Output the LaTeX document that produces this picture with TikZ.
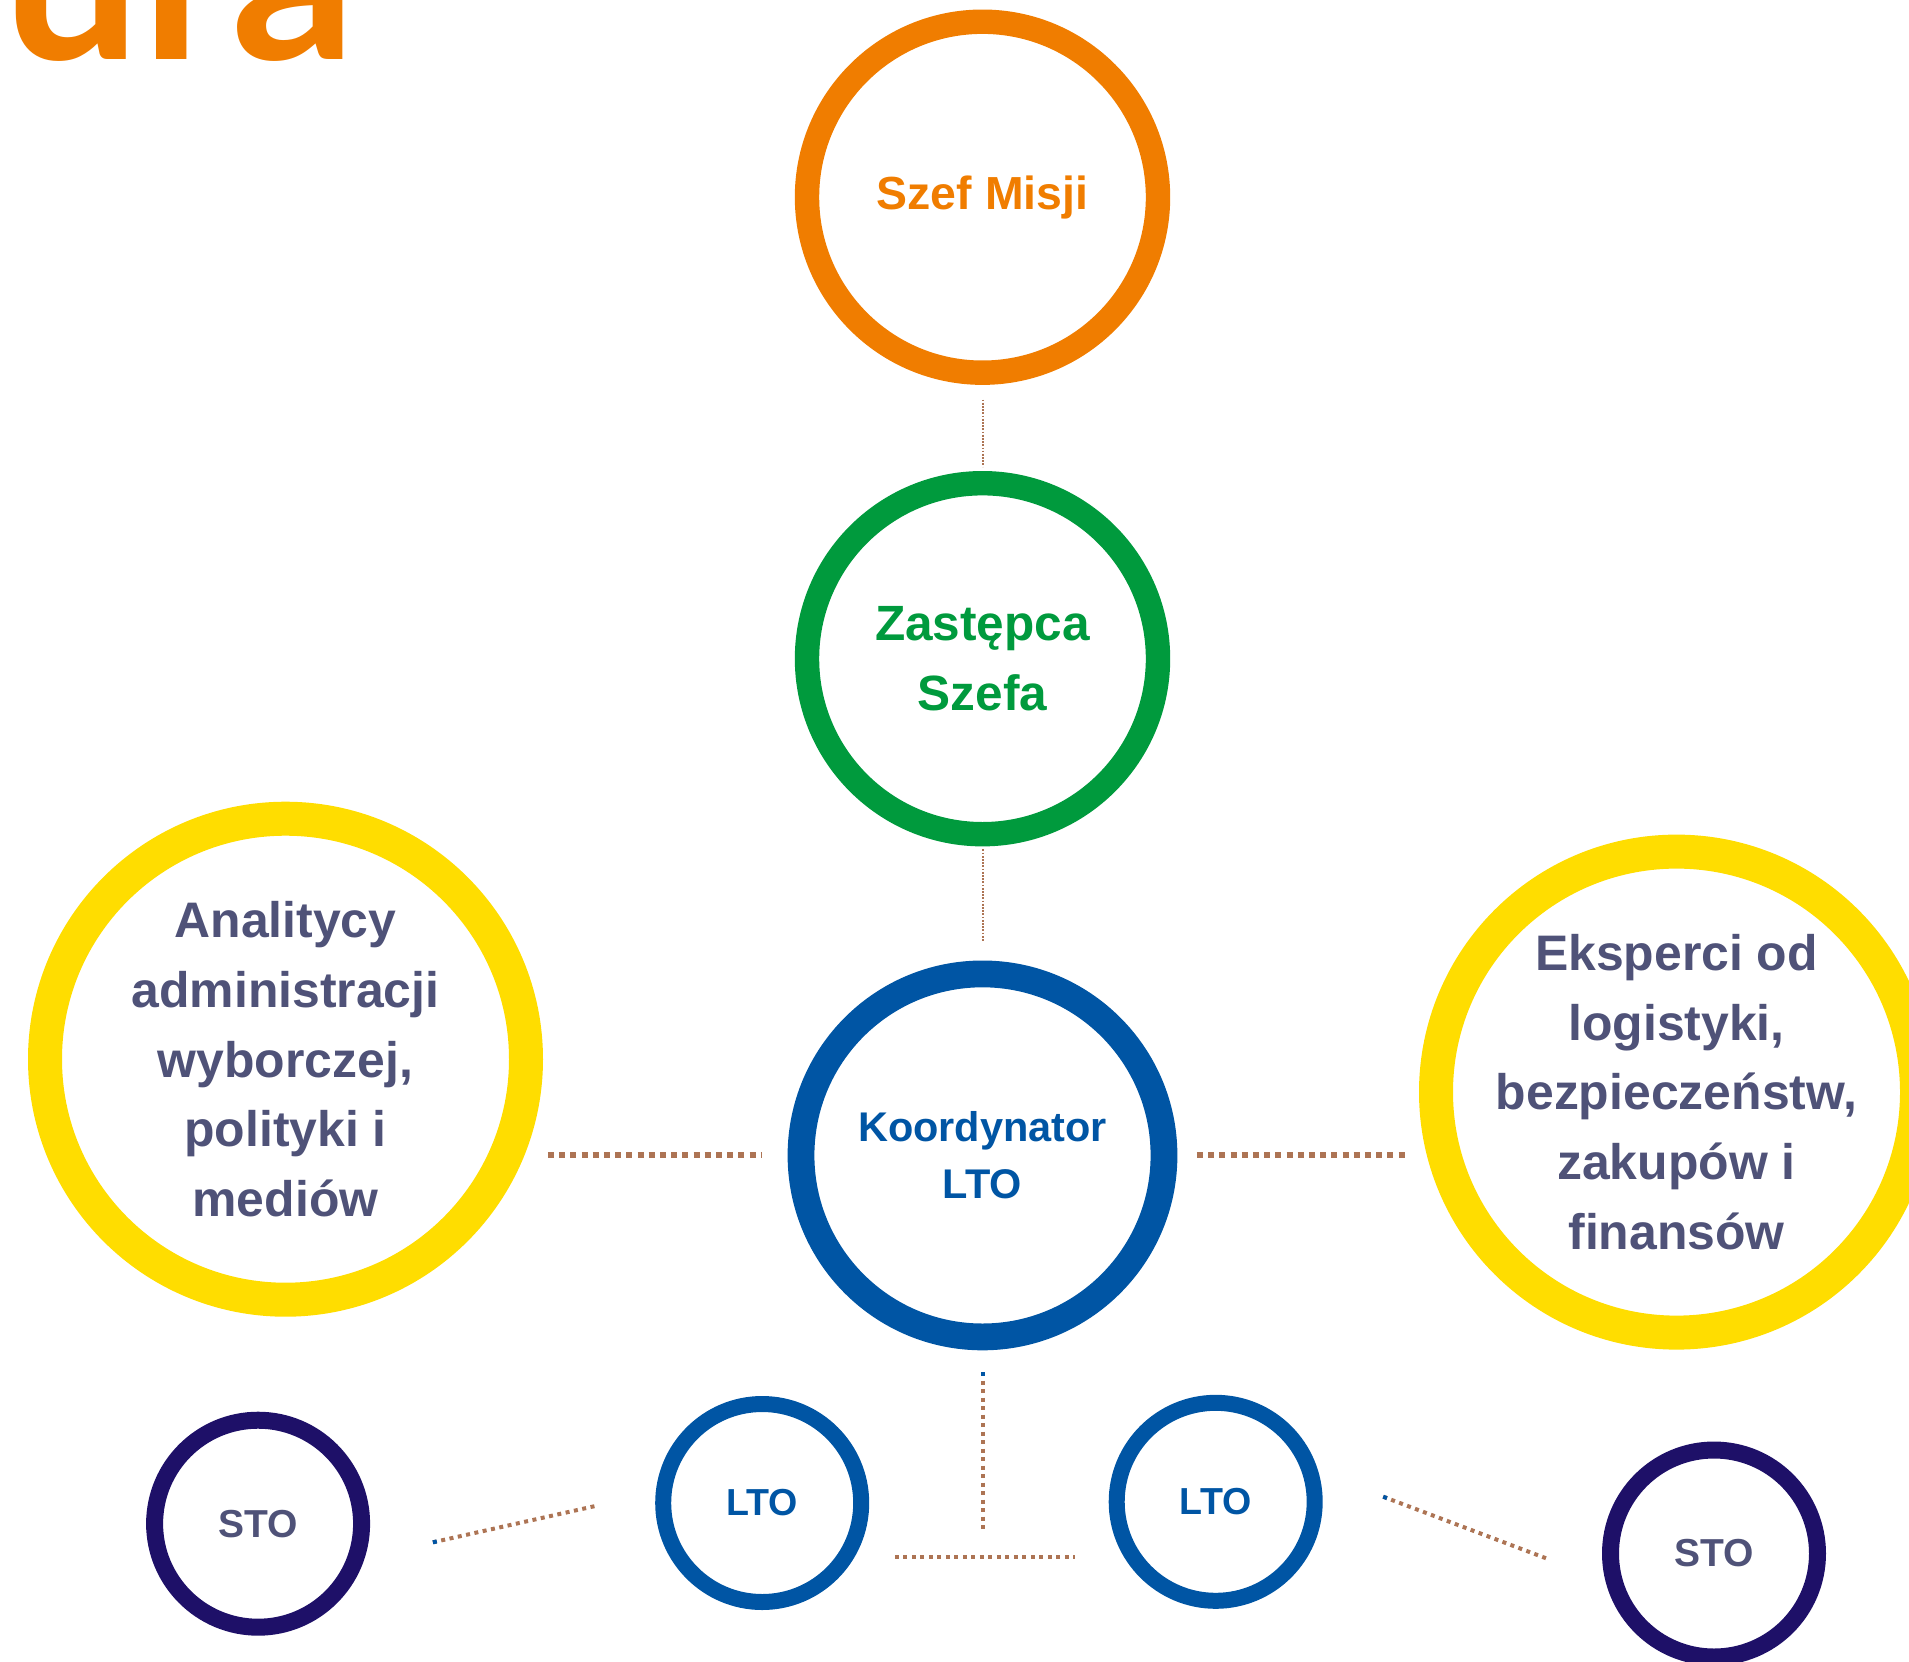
\documentclass[tikz,border=0pt]{standalone}
\usepackage{fontspec}
\setmainfont{Liberation Sans}
\newfontfamily\titlefont{Lato}
\usetikzlibrary{calc}

\definecolor{szefor}{RGB}{240,125,0}
\definecolor{zastgr}{RGB}{0,154,61}
\definecolor{koordbl}{RGB}{0,85,164}
\definecolor{ekspye}{RGB}{255,221,0}
\definecolor{stonavy}{RGB}{30,16,104}
\definecolor{txtgray}{RGB}{79,82,120}
\definecolor{linkbr}{RGB}{173,116,84}

\begin{document}
\begin{tikzpicture}[x=0.1mm,y=-0.1mm,
  person/.style={circle,draw,outer sep=0pt,inner sep=0pt,align=center},
  topring/.style={person,minimum size=35.1mm,line width=2.44mm},
  bigring/.style={person,minimum size=48.1mm,line width=3.4mm,draw=ekspye,text=txtgray,
    font={\bfseries\fontsize{14.2pt}{19.9pt}\selectfont}},
  ltoring/.style={person,minimum size=19.8mm,line width=1.6mm,draw=koordbl,text=koordbl,
    font={\bfseries\fontsize{10.7pt}{12pt}\selectfont}},
  storing/.style={person,minimum size=20.7mm,line width=1.7mm,draw=stonavy,text=txtgray,
    font={\bfseries\fontsize{11.1pt}{12pt}\selectfont}},
  thinlink/.style={draw=linkbr,line width=0.2mm,dash pattern=on 0.18mm off 0.14mm},
  thicklink/.style={draw=linkbr,line width=0.6mm,dash pattern=on 0.6mm off 0.52mm},
  lowlink/.style={draw=linkbr,line width=0.4mm,dash pattern=on 0.4mm off 0.45mm}]
\useasboundingbox (0,0) rectangle (1909,1661);

% title, cut at the top
\node[anchor=base west,inner sep=0pt,text=szefor,
  font={\titlefont\bfseries\fontsize{70pt}{70pt}\selectfont}] (tytul) at (2,60) {ura};

% main line
\node[topring,draw=szefor,text=szefor,font={\bfseries\fontsize{13.2pt}{16pt}\selectfont}]
  (szef) at (982.5,197.2) {Szef Misji};
\node[topring,draw=zastgr,text=zastgr,font={\bfseries\fontsize{14.1pt}{19.7pt}\selectfont}]
  (zast) at (982.5,658.7) {Zastępca\\Szefa};
\node[person,minimum size=36.3mm,line width=2.68mm,draw=koordbl,text=koordbl,
  font={\bfseries\fontsize{11.8pt}{16.3pt}\selectfont}]
  (koord) at (982.5,1155.4) {Koordynator\\LTO};

% side experts
\node[bigring] (anal) at (285.5,1059.2) {Analitycy\\administracji\\wyborczej,\\polityki i\\mediów};
\node[bigring] (eks) at (1676.5,1092.1) {Eksperci od\\logistyki,\\bezpieczeństw,\\zakupów i\\finansów};

% bottom row
\node[storing] (sto1) at (258.1,1523.7) {STO};
\node[ltoring] (lto1) at (762.2,1503) {LTO};
\node[ltoring] (lto2) at (1215.7,1501.8) {LTO};
\node[storing] (sto2) at (1714,1553.5) {STO};

\coordinate (fork) at (982.5,1531.6);
\coordinate (forkl) at (894.9,1557.2);
\coordinate (forkr) at (1075,1557.2);
\coordinate (s1a) at (432.9,1542.3);
\coordinate (s1b) at (597.5,1505.5);
\coordinate (s2a) at (1383.2,1496.7);
\coordinate (s2b) at (1548,1559);

% links
\draw[thinlink,shorten <=2.68mm,shorten >=1.65mm] (szef) -- (zast);
\draw[thinlink,shorten <=1.52mm,shorten >=3.29mm] (zast) -- (koord);
\draw[thicklink,shorten <=2.19mm,shorten >=4.01mm] (anal.east |- koord) -- (koord);
\draw[thicklink,shorten <=3.29mm,shorten >=2.68mm] (koord) -- (eks.west |- koord);
\draw[lowlink,shorten <=3.53mm] (koord) -- (fork);
\draw[lowlink,draw=koordbl,shorten <=3.53mm] (koord.south) -- ++(0,39.3);
\draw[lowlink] (forkl) -- (forkr);
\draw[lowlink] (s1a) -- (s1b);
\draw[lowlink,draw=koordbl] (s1a) -- ($(s1a)!0.4mm!(s1b)$);
\draw[lowlink] (s2a) -- (s2b);
\draw[lowlink,draw=koordbl] (s2a) -- ($(s2a)!0.4mm!(s2b)$);
\end{tikzpicture}
\end{document}
